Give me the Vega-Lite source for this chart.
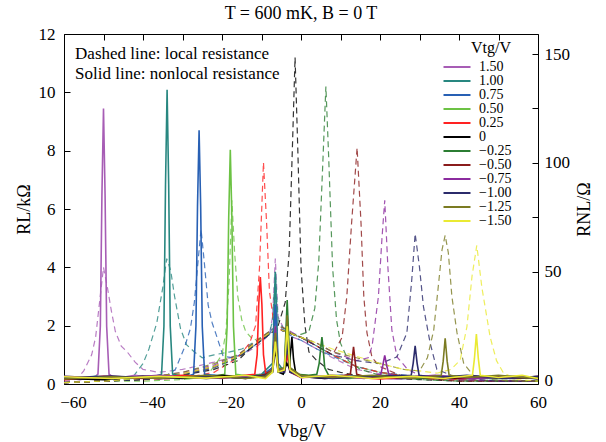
{
"$schema":"https://vega.github.io/schema/vega-lite/v6.json",
"width":474,"height":350,
"autosize":{"type":"none"},
"padding":{"left":64,"top":34,"right":68,"bottom":58},
"background":"white",
"title":{"text":"T = 600 mK, B = 0 T","font":"Liberation Serif","fontSize":18,"fontWeight":"normal","anchor":"middle","frame":"group","offset":2,"color":"#000"},
"config":{"view":{"stroke":null}},
"datasets":{
"L":[
{"s":"1.50","v":-60,"r":0.1},{"s":"1.50","v":-58,"r":0.12},{"s":"1.50","v":-56.5,"r":0.2},{"s":"1.50","v":-55,"r":0.45},{"s":"1.50","v":-53,"r":1.0},{"s":"1.50","v":-52,"r":1.6},{"s":"1.50","v":-51,"r":2.8},{"s":"1.50","v":-50,"r":4.0},{"s":"1.50","v":-49,"r":3.3},{"s":"1.50","v":-48,"r":2.5},{"s":"1.50","v":-47,"r":1.8},{"s":"1.50","v":-45.5,"r":1.3},{"s":"1.50","v":-44,"r":1.1},{"s":"1.50","v":-42,"r":0.75},{"s":"1.50","v":-40,"r":0.5},{"s":"1.50","v":-36,"r":0.4},{"s":"1.50","v":-30,"r":0.5},{"s":"1.50","v":-22,"r":0.75},{"s":"1.50","v":-15,"r":1.0},{"s":"1.50","v":-11,"r":1.3},{"s":"1.50","v":-8,"r":1.7},{"s":"1.50","v":-7.2,"r":2.3},{"s":"1.50","v":-6.5,"r":4.3},{"s":"1.50","v":-5.8,"r":2.3},{"s":"1.50","v":-4,"r":1.8},{"s":"1.50","v":-2,"r":1.6},{"s":"1.50","v":0,"r":1.5},{"s":"1.50","v":4,"r":1.2},{"s":"1.50","v":8,"r":0.9},{"s":"1.50","v":14,"r":0.5},{"s":"1.50","v":20,"r":0.35},{"s":"1.50","v":30,"r":0.2},{"s":"1.50","v":40,"r":0.15},{"s":"1.50","v":50,"r":0.1},{"s":"1.50","v":60,"r":0.1},
{"s":"1.00","v":-60,"r":0.05},{"s":"1.00","v":-50,"r":0.1},{"s":"1.00","v":-45,"r":0.15},{"s":"1.00","v":-42.5,"r":0.25},{"s":"1.00","v":-40,"r":0.7},{"s":"1.00","v":-38.5,"r":1.2},{"s":"1.00","v":-36.5,"r":2.1},{"s":"1.00","v":-35,"r":3.3},{"s":"1.00","v":-34,"r":4.3},{"s":"1.00","v":-33,"r":3.9},{"s":"1.00","v":-32,"r":3.0},{"s":"1.00","v":-30.5,"r":1.9},{"s":"1.00","v":-29,"r":1.35},{"s":"1.00","v":-27,"r":1.1},{"s":"1.00","v":-25,"r":0.9},{"s":"1.00","v":-22,"r":1.0},{"s":"1.00","v":-18,"r":1.1},{"s":"1.00","v":-15,"r":1.2},{"s":"1.00","v":-11,"r":1.5},{"s":"1.00","v":-8,"r":1.7},{"s":"1.00","v":-7.2,"r":2.2},{"s":"1.00","v":-6.5,"r":3.8},{"s":"1.00","v":-5.8,"r":2.2},{"s":"1.00","v":-4,"r":1.8},{"s":"1.00","v":-2,"r":1.7},{"s":"1.00","v":0,"r":1.6},{"s":"1.00","v":4,"r":1.3},{"s":"1.00","v":8,"r":1.0},{"s":"1.00","v":14,"r":0.6},{"s":"1.00","v":20,"r":0.4},{"s":"1.00","v":30,"r":0.2},{"s":"1.00","v":40,"r":0.15},{"s":"1.00","v":50,"r":0.1},{"s":"1.00","v":60,"r":0.1},
{"s":"0.75","v":-60,"r":0.05},{"s":"0.75","v":-50,"r":0.1},{"s":"0.75","v":-40,"r":0.15},{"s":"0.75","v":-34,"r":0.3},{"s":"0.75","v":-31.8,"r":0.5},{"s":"0.75","v":-29.5,"r":1.25},{"s":"0.75","v":-28,"r":1.9},{"s":"0.75","v":-27,"r":2.8},{"s":"0.75","v":-26,"r":4.3},{"s":"0.75","v":-25.3,"r":5.3},{"s":"0.75","v":-24.5,"r":4.2},{"s":"0.75","v":-23.5,"r":2.7},{"s":"0.75","v":-22.5,"r":2.1},{"s":"0.75","v":-21.5,"r":1.7},{"s":"0.75","v":-19.7,"r":0.95},{"s":"0.75","v":-17,"r":0.9},{"s":"0.75","v":-14,"r":1.1},{"s":"0.75","v":-11,"r":1.4},{"s":"0.75","v":-8,"r":1.7},{"s":"0.75","v":-7,"r":2.0},{"s":"0.75","v":-6.5,"r":3.3},{"s":"0.75","v":-6,"r":2.0},{"s":"0.75","v":-4,"r":1.8},{"s":"0.75","v":-2,"r":1.6},{"s":"0.75","v":0,"r":1.5},{"s":"0.75","v":4,"r":1.2},{"s":"0.75","v":8,"r":0.95},{"s":"0.75","v":14,"r":0.6},{"s":"0.75","v":20,"r":0.4},{"s":"0.75","v":30,"r":0.25},{"s":"0.75","v":40,"r":0.15},{"s":"0.75","v":50,"r":0.1},{"s":"0.75","v":60,"r":0.1},
{"s":"0.50","v":-60,"r":0.05},{"s":"0.50","v":-50,"r":0.1},{"s":"0.50","v":-40,"r":0.1},{"s":"0.50","v":-30,"r":0.15},{"s":"0.50","v":-24,"r":0.25},{"s":"0.50","v":-21.5,"r":0.7},{"s":"0.50","v":-20,"r":1.0},{"s":"0.50","v":-19,"r":1.8},{"s":"0.50","v":-18.2,"r":3.5},{"s":"0.50","v":-17.5,"r":6.3},{"s":"0.50","v":-16.8,"r":4.5},{"s":"0.50","v":-16,"r":3.0},{"s":"0.50","v":-15,"r":2.2},{"s":"0.50","v":-14,"r":1.8},{"s":"0.50","v":-12,"r":1.5},{"s":"0.50","v":-10,"r":1.6},{"s":"0.50","v":-8,"r":1.8},{"s":"0.50","v":-6,"r":1.9},{"s":"0.50","v":-4,"r":1.8},{"s":"0.50","v":-2,"r":1.7},{"s":"0.50","v":0,"r":1.6},{"s":"0.50","v":4,"r":1.3},{"s":"0.50","v":8,"r":1.0},{"s":"0.50","v":14,"r":0.6},{"s":"0.50","v":20,"r":0.4},{"s":"0.50","v":30,"r":0.2},{"s":"0.50","v":40,"r":0.15},{"s":"0.50","v":50,"r":0.1},{"s":"0.50","v":60,"r":0.1},
{"s":"0.25","v":-60,"r":0.05},{"s":"0.25","v":-50,"r":0.1},{"s":"0.25","v":-40,"r":0.15},{"s":"0.25","v":-30,"r":0.2},{"s":"0.25","v":-22,"r":0.4},{"s":"0.25","v":-16,"r":0.9},{"s":"0.25","v":-13,"r":1.4},{"s":"0.25","v":-11.5,"r":2.0},{"s":"0.25","v":-10.5,"r":4.0},{"s":"0.25","v":-9.5,"r":7.6},{"s":"0.25","v":-8.7,"r":5.5},{"s":"0.25","v":-8,"r":3.2},{"s":"0.25","v":-7,"r":2.2},{"s":"0.25","v":-6,"r":1.9},{"s":"0.25","v":-4,"r":1.8},{"s":"0.25","v":-2,"r":1.7},{"s":"0.25","v":0,"r":1.6},{"s":"0.25","v":4,"r":1.3},{"s":"0.25","v":8,"r":1.0},{"s":"0.25","v":14,"r":0.6},{"s":"0.25","v":20,"r":0.4},{"s":"0.25","v":30,"r":0.2},{"s":"0.25","v":40,"r":0.15},{"s":"0.25","v":50,"r":0.1},{"s":"0.25","v":60,"r":0.1},
{"s":"0","v":-60,"r":0.05},{"s":"0","v":-50,"r":0.1},{"s":"0","v":-40,"r":0.15},{"s":"0","v":-30,"r":0.3},{"s":"0","v":-22,"r":0.5},{"s":"0","v":-16,"r":0.8},{"s":"0","v":-13,"r":1.2},{"s":"0","v":-10,"r":1.5},{"s":"0","v":-8,"r":1.7},{"s":"0","v":-6,"r":1.9},{"s":"0","v":-4,"r":2.8},{"s":"0","v":-3,"r":4.5},{"s":"0","v":-2.2,"r":8.0},{"s":"0","v":-1.5,"r":11.2},{"s":"0","v":-0.8,"r":8.0},{"s":"0","v":0,"r":4.0},{"s":"0","v":1,"r":2.0},{"s":"0","v":2,"r":1.1},{"s":"0","v":4,"r":0.8},{"s":"0","v":7,"r":0.5},{"s":"0","v":10,"r":0.4},{"s":"0","v":14,"r":0.3},{"s":"0","v":20,"r":0.2},{"s":"0","v":30,"r":0.15},{"s":"0","v":40,"r":0.1},{"s":"0","v":50,"r":0.1},{"s":"0","v":60,"r":0.1},
{"s":"−0.25","v":-60,"r":0.05},{"s":"−0.25","v":-50,"r":0.1},{"s":"−0.25","v":-40,"r":0.15},{"s":"−0.25","v":-30,"r":0.3},{"s":"−0.25","v":-22,"r":0.6},{"s":"−0.25","v":-16,"r":0.9},{"s":"−0.25","v":-13,"r":1.2},{"s":"−0.25","v":-10,"r":1.5},{"s":"−0.25","v":-8,"r":1.7},{"s":"−0.25","v":-6,"r":1.9},{"s":"−0.25","v":-4,"r":1.8},{"s":"−0.25","v":-2,"r":1.7},{"s":"−0.25","v":0,"r":1.7},{"s":"−0.25","v":2,"r":1.8},{"s":"−0.25","v":3.5,"r":2.6},{"s":"−0.25","v":4.5,"r":4.2},{"s":"−0.25","v":5.5,"r":7.5},{"s":"−0.25","v":6.3,"r":10.2},{"s":"−0.25","v":7,"r":7.8},{"s":"−0.25","v":8,"r":4.0},{"s":"−0.25","v":9,"r":2.2},{"s":"−0.25","v":10,"r":1.4},{"s":"−0.25","v":12,"r":0.8},{"s":"−0.25","v":15,"r":0.5},{"s":"−0.25","v":20,"r":0.3},{"s":"−0.25","v":30,"r":0.15},{"s":"−0.25","v":40,"r":0.1},{"s":"−0.25","v":50,"r":0.1},{"s":"−0.25","v":60,"r":0.1},
{"s":"−0.50","v":-60,"r":0.05},{"s":"−0.50","v":-50,"r":0.1},{"s":"−0.50","v":-40,"r":0.2},{"s":"−0.50","v":-30,"r":0.35},{"s":"−0.50","v":-22,"r":0.6},{"s":"−0.50","v":-16,"r":0.95},{"s":"−0.50","v":-13,"r":1.25},{"s":"−0.50","v":-10,"r":1.55},{"s":"−0.50","v":-8,"r":1.75},{"s":"−0.50","v":-6,"r":1.9},{"s":"−0.50","v":-4,"r":1.8},{"s":"−0.50","v":-2,"r":1.7},{"s":"−0.50","v":0,"r":1.6},{"s":"−0.50","v":4,"r":1.3},{"s":"−0.50","v":8,"r":1.0},{"s":"−0.50","v":10.4,"r":1.6},{"s":"−0.50","v":11.6,"r":3.0},{"s":"−0.50","v":12.8,"r":5.5},{"s":"−0.50","v":14.2,"r":8.1},{"s":"−0.50","v":15.2,"r":5.5},{"s":"−0.50","v":15.9,"r":3.0},{"s":"−0.50","v":16.7,"r":1.75},{"s":"−0.50","v":18,"r":0.9},{"s":"−0.50","v":20,"r":0.6},{"s":"−0.50","v":25,"r":0.3},{"s":"−0.50","v":30,"r":0.2},{"s":"−0.50","v":40,"r":0.1},{"s":"−0.50","v":50,"r":0.1},{"s":"−0.50","v":60,"r":0.1},
{"s":"−0.75","v":-60,"r":0.05},{"s":"−0.75","v":-50,"r":0.1},{"s":"−0.75","v":-40,"r":0.2},{"s":"−0.75","v":-30,"r":0.4},{"s":"−0.75","v":-22,"r":0.65},{"s":"−0.75","v":-16,"r":1.0},{"s":"−0.75","v":-13,"r":1.3},{"s":"−0.75","v":-10,"r":1.6},{"s":"−0.75","v":-8,"r":1.8},{"s":"−0.75","v":-6,"r":2.0},{"s":"−0.75","v":-4,"r":1.9},{"s":"−0.75","v":-2,"r":1.75},{"s":"−0.75","v":0,"r":1.6},{"s":"−0.75","v":4,"r":1.4},{"s":"−0.75","v":8,"r":1.1},{"s":"−0.75","v":14,"r":0.8},{"s":"−0.75","v":17,"r":0.9},{"s":"−0.75","v":18,"r":1.3},{"s":"−0.75","v":19.6,"r":3.0},{"s":"−0.75","v":20.5,"r":5.0},{"s":"−0.75","v":21.2,"r":6.3},{"s":"−0.75","v":22,"r":4.0},{"s":"−0.75","v":23,"r":1.85},{"s":"−0.75","v":24.3,"r":0.93},{"s":"−0.75","v":27,"r":0.5},{"s":"−0.75","v":30,"r":0.3},{"s":"−0.75","v":40,"r":0.15},{"s":"−0.75","v":50,"r":0.1},{"s":"−0.75","v":60,"r":0.1},
{"s":"−1.00","v":-60,"r":0.05},{"s":"−1.00","v":-50,"r":0.1},{"s":"−1.00","v":-40,"r":0.15},{"s":"−1.00","v":-30,"r":0.3},{"s":"−1.00","v":-22,"r":0.55},{"s":"−1.00","v":-16,"r":0.9},{"s":"−1.00","v":-13,"r":1.2},{"s":"−1.00","v":-10,"r":1.5},{"s":"−1.00","v":-8,"r":1.7},{"s":"−1.00","v":-6,"r":1.85},{"s":"−1.00","v":-4,"r":1.8},{"s":"−1.00","v":-2,"r":1.7},{"s":"−1.00","v":0,"r":1.6},{"s":"−1.00","v":4,"r":1.3},{"s":"−1.00","v":8,"r":1.0},{"s":"−1.00","v":14,"r":0.8},{"s":"−1.00","v":20,"r":0.7},{"s":"−1.00","v":24.3,"r":0.93},{"s":"−1.00","v":26.8,"r":1.75},{"s":"−1.00","v":28,"r":3.5},{"s":"−1.00","v":28.9,"r":5.15},{"s":"−1.00","v":30,"r":4.0},{"s":"−1.00","v":31,"r":2.65},{"s":"−1.00","v":32.7,"r":1.4},{"s":"−1.00","v":34.4,"r":0.5},{"s":"−1.00","v":38,"r":0.3},{"s":"−1.00","v":45,"r":0.15},{"s":"−1.00","v":50,"r":0.1},{"s":"−1.00","v":60,"r":0.1},
{"s":"−1.25","v":-60,"r":0.05},{"s":"−1.25","v":-50,"r":0.1},{"s":"−1.25","v":-40,"r":0.2},{"s":"−1.25","v":-30,"r":0.4},{"s":"−1.25","v":-22,"r":0.7},{"s":"−1.25","v":-16,"r":1.0},{"s":"−1.25","v":-13,"r":1.3},{"s":"−1.25","v":-10,"r":1.6},{"s":"−1.25","v":-8,"r":1.8},{"s":"−1.25","v":-6,"r":2.0},{"s":"−1.25","v":-4,"r":1.9},{"s":"−1.25","v":-2,"r":1.7},{"s":"−1.25","v":0,"r":1.6},{"s":"−1.25","v":4,"r":1.4},{"s":"−1.25","v":8,"r":1.1},{"s":"−1.25","v":14,"r":0.9},{"s":"−1.25","v":20,"r":0.7},{"s":"−1.25","v":26,"r":0.5},{"s":"−1.25","v":30,"r":0.45},{"s":"−1.25","v":32,"r":0.9},{"s":"−1.25","v":33.6,"r":1.85},{"s":"−1.25","v":34.8,"r":3.4},{"s":"−1.25","v":35.7,"r":4.6},{"s":"−1.25","v":36.5,"r":5.1},{"s":"−1.25","v":37.3,"r":4.5},{"s":"−1.25","v":38.2,"r":3.0},{"s":"−1.25","v":39.5,"r":1.75},{"s":"−1.25","v":41.2,"r":0.7},{"s":"−1.25","v":43.6,"r":0.3},{"s":"−1.25","v":48,"r":0.15},{"s":"−1.25","v":55,"r":0.1},{"s":"−1.25","v":60,"r":0.1},
{"s":"−1.50","v":-60,"r":0.05},{"s":"−1.50","v":-50,"r":0.1},{"s":"−1.50","v":-40,"r":0.2},{"s":"−1.50","v":-30,"r":0.35},{"s":"−1.50","v":-22,"r":0.6},{"s":"−1.50","v":-16,"r":0.95},{"s":"−1.50","v":-13,"r":1.25},{"s":"−1.50","v":-10,"r":1.55},{"s":"−1.50","v":-8,"r":1.75},{"s":"−1.50","v":-6,"r":1.9},{"s":"−1.50","v":-4,"r":1.8},{"s":"−1.50","v":-2,"r":1.7},{"s":"−1.50","v":0,"r":1.6},{"s":"−1.50","v":4,"r":1.4},{"s":"−1.50","v":8,"r":1.2},{"s":"−1.50","v":14,"r":0.95},{"s":"−1.50","v":20,"r":0.7},{"s":"−1.50","v":26,"r":0.5},{"s":"−1.50","v":30,"r":0.45},{"s":"−1.50","v":34.4,"r":0.37},{"s":"−1.50","v":38,"r":0.5},{"s":"−1.50","v":40.3,"r":0.82},{"s":"−1.50","v":42,"r":1.96},{"s":"−1.50","v":43.3,"r":3.7},{"s":"−1.50","v":44.5,"r":4.75},{"s":"−1.50","v":45.8,"r":3.3},{"s":"−1.50","v":47.9,"r":1.6},{"s":"−1.50","v":49.5,"r":0.8},{"s":"−1.50","v":51.3,"r":0.37},{"s":"−1.50","v":55,"r":0.15},{"s":"−1.50","v":60,"r":0.1}
],
"N":[
{"s":"1.50","v":-60,"r":1.5},{"s":"1.50","v":-56,"r":0.5},{"s":"1.50","v":-52,"r":2},{"s":"1.50","v":-51.4,"r":3},{"s":"1.50","v":-50.8,"r":25},{"s":"1.50","v":-50.4,"r":85},{"s":"1.50","v":-50,"r":125},{"s":"1.50","v":-49.6,"r":85},{"s":"1.50","v":-49.2,"r":25},{"s":"1.50","v":-48.6,"r":3},{"s":"1.50","v":-47,"r":1},{"s":"1.50","v":-42,"r":2.5},{"s":"1.50","v":-36,"r":0.8},{"s":"1.50","v":-28,"r":2},{"s":"1.50","v":-20,"r":1},{"s":"1.50","v":-14,"r":2.5},{"s":"1.50","v":-9,"r":3},{"s":"1.50","v":-7.2,"r":6},{"s":"1.50","v":-6.5,"r":30},{"s":"1.50","v":-5.8,"r":6},{"s":"1.50","v":-4.2,"r":5},{"s":"1.50","v":-3.5,"r":15},{"s":"1.50","v":-2.8,"r":4},{"s":"1.50","v":0,"r":2},{"s":"1.50","v":6,"r":1},{"s":"1.50","v":14,"r":2},{"s":"1.50","v":24,"r":0.8},{"s":"1.50","v":34,"r":1.5},{"s":"1.50","v":46,"r":1},{"s":"1.50","v":54,"r":2},{"s":"1.50","v":60,"r":1},
{"s":"1.00","v":-60,"r":0.8},{"s":"1.00","v":-52,"r":2},{"s":"1.00","v":-44,"r":1},{"s":"1.00","v":-38,"r":1.5},{"s":"1.00","v":-35.3,"r":3},{"s":"1.00","v":-34.7,"r":25},{"s":"1.00","v":-34.3,"r":90},{"s":"1.00","v":-33.9,"r":133.6},{"s":"1.00","v":-33.5,"r":90},{"s":"1.00","v":-33.1,"r":25},{"s":"1.00","v":-32.5,"r":3},{"s":"1.00","v":-28,"r":1.5},{"s":"1.00","v":-22,"r":2.5},{"s":"1.00","v":-15,"r":1.5},{"s":"1.00","v":-10,"r":3},{"s":"1.00","v":-7.2,"r":8},{"s":"1.00","v":-6.5,"r":50},{"s":"1.00","v":-5.8,"r":8},{"s":"1.00","v":-4.2,"r":4},{"s":"1.00","v":-3.5,"r":18},{"s":"1.00","v":-2.8,"r":4},{"s":"1.00","v":0,"r":2.5},{"s":"1.00","v":8,"r":1.2},{"s":"1.00","v":16,"r":2},{"s":"1.00","v":26,"r":1},{"s":"1.00","v":36,"r":2},{"s":"1.00","v":48,"r":1},{"s":"1.00","v":60,"r":1.5},
{"s":"0.75","v":-60,"r":1.2},{"s":"0.75","v":-50,"r":0.7},{"s":"0.75","v":-40,"r":2},{"s":"0.75","v":-30,"r":1.2},{"s":"0.75","v":-27.2,"r":3},{"s":"0.75","v":-26.6,"r":25},{"s":"0.75","v":-26.2,"r":80},{"s":"0.75","v":-25.8,"r":115},{"s":"0.75","v":-25.4,"r":80},{"s":"0.75","v":-25,"r":25},{"s":"0.75","v":-24.4,"r":3},{"s":"0.75","v":-20,"r":2},{"s":"0.75","v":-14,"r":1},{"s":"0.75","v":-10,"r":2.5},{"s":"0.75","v":-7.2,"r":6},{"s":"0.75","v":-6.5,"r":35},{"s":"0.75","v":-5.8,"r":6},{"s":"0.75","v":-4.2,"r":4},{"s":"0.75","v":-3.5,"r":15},{"s":"0.75","v":-2.8,"r":4},{"s":"0.75","v":0,"r":1.5},{"s":"0.75","v":10,"r":2.5},{"s":"0.75","v":20,"r":1},{"s":"0.75","v":30,"r":2},{"s":"0.75","v":42,"r":1},{"s":"0.75","v":52,"r":2.2},{"s":"0.75","v":60,"r":0.8},
{"s":"0.50","v":-60,"r":2},{"s":"0.50","v":-48,"r":1},{"s":"0.50","v":-38,"r":2.2},{"s":"0.50","v":-28,"r":1},{"s":"0.50","v":-22,"r":2},{"s":"0.50","v":-19.3,"r":3},{"s":"0.50","v":-18.7,"r":25},{"s":"0.50","v":-18.3,"r":75},{"s":"0.50","v":-17.9,"r":106},{"s":"0.50","v":-17.5,"r":75},{"s":"0.50","v":-17.1,"r":25},{"s":"0.50","v":-16.5,"r":3},{"s":"0.50","v":-13,"r":2},{"s":"0.50","v":-9,"r":3},{"s":"0.50","v":-7.2,"r":5},{"s":"0.50","v":-6.5,"r":25},{"s":"0.50","v":-5.8,"r":5},{"s":"0.50","v":-4.2,"r":5},{"s":"0.50","v":-3.5,"r":20},{"s":"0.50","v":-2.8,"r":5},{"s":"0.50","v":0,"r":2},{"s":"0.50","v":12,"r":1},{"s":"0.50","v":22,"r":2.5},{"s":"0.50","v":32,"r":1},{"s":"0.50","v":44,"r":2},{"s":"0.50","v":54,"r":1},{"s":"0.50","v":60,"r":1.8},
{"s":"0.25","v":-60,"r":0.5},{"s":"0.25","v":-50,"r":2},{"s":"0.25","v":-40,"r":1},{"s":"0.25","v":-30,"r":2.5},{"s":"0.25","v":-20,"r":1.2},{"s":"0.25","v":-14,"r":2.5},{"s":"0.25","v":-11.7,"r":3},{"s":"0.25","v":-11.1,"r":12},{"s":"0.25","v":-10.7,"r":35},{"s":"0.25","v":-10.3,"r":47.6},{"s":"0.25","v":-9.9,"r":35},{"s":"0.25","v":-9.5,"r":12},{"s":"0.25","v":-8.9,"r":3},{"s":"0.25","v":-7.2,"r":5},{"s":"0.25","v":-6.5,"r":20},{"s":"0.25","v":-5.8,"r":5},{"s":"0.25","v":-4.2,"r":4},{"s":"0.25","v":-3.5,"r":12},{"s":"0.25","v":-2.8,"r":4},{"s":"0.25","v":0,"r":1.5},{"s":"0.25","v":10,"r":2},{"s":"0.25","v":20,"r":0.8},{"s":"0.25","v":30,"r":2},{"s":"0.25","v":40,"r":1},{"s":"0.25","v":50,"r":2},{"s":"0.25","v":60,"r":1},
{"s":"0","v":-60,"r":1},{"s":"0","v":-50,"r":0.5},{"s":"0","v":-40,"r":2},{"s":"0","v":-30,"r":1},{"s":"0","v":-20,"r":2.5},{"s":"0","v":-12,"r":1.5},{"s":"0","v":-8,"r":3},{"s":"0","v":-7.2,"r":4},{"s":"0","v":-6.5,"r":15},{"s":"0","v":-5.8,"r":4},{"s":"0","v":-4.5,"r":3},{"s":"0","v":-3.6,"r":8},{"s":"0","v":-3,"r":6},{"s":"0","v":-2.7,"r":12},{"s":"0","v":-2.3,"r":20},{"s":"0","v":-1.9,"r":10},{"s":"0","v":-1.3,"r":3},{"s":"0","v":0,"r":2},{"s":"0","v":6,"r":1},{"s":"0","v":14,"r":2},{"s":"0","v":24,"r":1.5},{"s":"0","v":36,"r":1},{"s":"0","v":48,"r":2},{"s":"0","v":60,"r":1},
{"s":"−0.25","v":-60,"r":1.5},{"s":"−0.25","v":-48,"r":1},{"s":"−0.25","v":-36,"r":2},{"s":"−0.25","v":-24,"r":1},{"s":"−0.25","v":-14,"r":2},{"s":"−0.25","v":-9,"r":2.5},{"s":"−0.25","v":-7.2,"r":5},{"s":"−0.25","v":-6.5,"r":22},{"s":"−0.25","v":-5.8,"r":5},{"s":"−0.25","v":-4.2,"r":6},{"s":"−0.25","v":-3.5,"r":37},{"s":"−0.25","v":-2.8,"r":6},{"s":"−0.25","v":-1,"r":3},{"s":"−0.25","v":2,"r":2.5},{"s":"−0.25","v":4,"r":3},{"s":"−0.25","v":4.6,"r":8},{"s":"−0.25","v":5,"r":15},{"s":"−0.25","v":5.3,"r":20},{"s":"−0.25","v":5.6,"r":15},{"s":"−0.25","v":6,"r":6},{"s":"−0.25","v":7,"r":2.5},{"s":"−0.25","v":12,"r":1.5},{"s":"−0.25","v":20,"r":2.5},{"s":"−0.25","v":30,"r":1},{"s":"−0.25","v":40,"r":2},{"s":"−0.25","v":50,"r":1},{"s":"−0.25","v":60,"r":1.5},
{"s":"−0.50","v":-60,"r":1},{"s":"−0.50","v":-48,"r":2},{"s":"−0.50","v":-36,"r":1},{"s":"−0.50","v":-24,"r":2.2},{"s":"−0.50","v":-14,"r":1},{"s":"−0.50","v":-9,"r":3},{"s":"−0.50","v":-7.2,"r":5},{"s":"−0.50","v":-6.5,"r":18},{"s":"−0.50","v":-5.8,"r":5},{"s":"−0.50","v":-4.2,"r":5},{"s":"−0.50","v":-3.5,"r":20},{"s":"−0.50","v":-2.8,"r":5},{"s":"−0.50","v":0,"r":2},{"s":"−0.50","v":6,"r":1.5},{"s":"−0.50","v":11,"r":2.5},{"s":"−0.50","v":12.5,"r":3},{"s":"−0.50","v":12.9,"r":9},{"s":"−0.50","v":13.3,"r":15.6},{"s":"−0.50","v":13.7,"r":9},{"s":"−0.50","v":14.1,"r":3},{"s":"−0.50","v":17,"r":1.5},{"s":"−0.50","v":24,"r":2.5},{"s":"−0.50","v":34,"r":1},{"s":"−0.50","v":44,"r":2},{"s":"−0.50","v":54,"r":1},{"s":"−0.50","v":60,"r":2},
{"s":"−0.75","v":-60,"r":2},{"s":"−0.75","v":-48,"r":1},{"s":"−0.75","v":-36,"r":2.5},{"s":"−0.75","v":-24,"r":1},{"s":"−0.75","v":-14,"r":2.2},{"s":"−0.75","v":-9,"r":1.5},{"s":"−0.75","v":-7.2,"r":5},{"s":"−0.75","v":-6.5,"r":25},{"s":"−0.75","v":-5.8,"r":5},{"s":"−0.75","v":-4.2,"r":5},{"s":"−0.75","v":-3.5,"r":22},{"s":"−0.75","v":-2.8,"r":5},{"s":"−0.75","v":0,"r":1.5},{"s":"−0.75","v":8,"r":2.5},{"s":"−0.75","v":16,"r":1},{"s":"−0.75","v":20.2,"r":3},{"s":"−0.75","v":20.7,"r":7},{"s":"−0.75","v":21.2,"r":11.6},{"s":"−0.75","v":21.7,"r":7},{"s":"−0.75","v":22.2,"r":3},{"s":"−0.75","v":26,"r":1.5},{"s":"−0.75","v":34,"r":2.5},{"s":"−0.75","v":44,"r":1},{"s":"−0.75","v":54,"r":2},{"s":"−0.75","v":60,"r":1},
{"s":"−1.00","v":-60,"r":1.2},{"s":"−1.00","v":-48,"r":2.2},{"s":"−1.00","v":-36,"r":1},{"s":"−1.00","v":-24,"r":2},{"s":"−1.00","v":-14,"r":1.2},{"s":"−1.00","v":-9,"r":2.5},{"s":"−1.00","v":-7.2,"r":4},{"s":"−1.00","v":-6.5,"r":20},{"s":"−1.00","v":-5.8,"r":4},{"s":"−1.00","v":-4.2,"r":4},{"s":"−1.00","v":-3.5,"r":18},{"s":"−1.00","v":-2.8,"r":4},{"s":"−1.00","v":0,"r":2},{"s":"−1.00","v":8,"r":1},{"s":"−1.00","v":18,"r":2},{"s":"−1.00","v":27.9,"r":2.5},{"s":"−1.00","v":28.4,"r":8},{"s":"−1.00","v":28.9,"r":16},{"s":"−1.00","v":29.4,"r":8},{"s":"−1.00","v":29.9,"r":2.5},{"s":"−1.00","v":34,"r":1.5},{"s":"−1.00","v":42,"r":2.5},{"s":"−1.00","v":52,"r":1},{"s":"−1.00","v":60,"r":2},
{"s":"−1.25","v":-60,"r":0.8},{"s":"−1.25","v":-48,"r":1.8},{"s":"−1.25","v":-36,"r":1},{"s":"−1.25","v":-24,"r":2.5},{"s":"−1.25","v":-14,"r":1},{"s":"−1.25","v":-9,"r":2},{"s":"−1.25","v":-7.2,"r":5},{"s":"−1.25","v":-6.5,"r":22},{"s":"−1.25","v":-5.8,"r":5},{"s":"−1.25","v":-4.2,"r":6},{"s":"−1.25","v":-3.5,"r":30},{"s":"−1.25","v":-2.8,"r":6},{"s":"−1.25","v":0,"r":2.5},{"s":"−1.25","v":8,"r":1.5},{"s":"−1.25","v":18,"r":2.5},{"s":"−1.25","v":28,"r":1},{"s":"−1.25","v":35.5,"r":2.5},{"s":"−1.25","v":36,"r":9},{"s":"−1.25","v":36.5,"r":19.5},{"s":"−1.25","v":37,"r":9},{"s":"−1.25","v":37.5,"r":2.5},{"s":"−1.25","v":42,"r":1.5},{"s":"−1.25","v":50,"r":2.5},{"s":"−1.25","v":60,"r":1},
{"s":"−1.50","v":-60,"r":1.8},{"s":"−1.50","v":-48,"r":1},{"s":"−1.50","v":-36,"r":2},{"s":"−1.50","v":-24,"r":1.2},{"s":"−1.50","v":-14,"r":2.5},{"s":"−1.50","v":-9,"r":1},{"s":"−1.50","v":-7.2,"r":4},{"s":"−1.50","v":-6.5,"r":18},{"s":"−1.50","v":-5.8,"r":4},{"s":"−1.50","v":-4.2,"r":5},{"s":"−1.50","v":-3.5,"r":25},{"s":"−1.50","v":-2.8,"r":5},{"s":"−1.50","v":0,"r":1.5},{"s":"−1.50","v":8,"r":2.5},{"s":"−1.50","v":18,"r":1},{"s":"−1.50","v":28,"r":2},{"s":"−1.50","v":36,"r":1},{"s":"−1.50","v":43.4,"r":2.5},{"s":"−1.50","v":43.9,"r":10},{"s":"−1.50","v":44.4,"r":21.4},{"s":"−1.50","v":44.9,"r":10},{"s":"−1.50","v":45.4,"r":2.5},{"s":"−1.50","v":50,"r":1.5},{"s":"−1.50","v":56,"r":2.5},{"s":"−1.50","v":60,"r":1}
]
},
"layer":[
{"layer":[
{"data":{"name":"L"},
 "mark":{"type":"line","strokeDash":[6,4],"strokeWidth":1.2,"opacity":0.8},
 "encoding":{
  "x":{"field":"v","type":"quantitative","scale":{"domain":[-60,60],"nice":false,"zero":false},
   "axis":{"orient":"bottom","values":[-60,-50,-40,-30,-20,-10,0,10,20,30,40,50,60],"labelExpr":"datum.value % 20 === 0 ? datum.label : ''","title":"Vbg/V","tickSize":-6,"labelPadding":16,"titlePadding":12,"grid":false,"domainColor":"#000","tickColor":"#000","labelColor":"#000","titleColor":"#000","labelFont":"Liberation Serif","labelFontSize":17,"titleFont":"Liberation Serif","titleFontSize":18,"titleFontWeight":"normal","labelFlush":false,"labelOverlap":false,"labelOffset":{"condition":{"test":"datum.value < 0","value":9},"value":0}}},
  "y":{"field":"r","type":"quantitative","scale":{"domain":[0,12],"nice":false},
   "axis":{"orient":"left","values":[0,1,2,3,4,5,6,7,8,9,10,11,12],"labelExpr":"datum.value % 2 === 0 ? datum.label : ''","title":"RL/kΩ","tickSize":-6,"labelPadding":15,"titlePadding":5,"grid":false,"domainColor":"#000","tickColor":"#000","labelColor":"#000","titleColor":"#000","labelFont":"Liberation Serif","labelFontSize":17,"titleFont":"Liberation Serif","titleFontSize":18,"titleFontWeight":"normal","labelFlush":false,"labelOverlap":false}},
  "color":{"field":"s","type":"nominal",
   "scale":{"domain":["1.50","1.00","0.75","0.50","0.25","0","−0.25","−0.50","−0.75","−1.00","−1.25","−1.50"],
            "range":["#a75db5","#288780","#2860b4","#6cc244","#ff2222","#000000","#2b7d32","#8a1c1c","#8b2b9e","#2b2b6b","#7b7b22","#eaea33"]},
   "legend":{"title":"Vtg/V","orient":"none","legendX":386,"legendY":6,"symbolType":"M-2.7,0H2.7","symbolSize":100,"symbolStrokeWidth":2,"symbolDash":[1,0],"symbolOpacity":1,"labelOffset":15,"labelFont":"Liberation Serif","labelFontSize":14,"labelColor":"#000","rowPadding":0,"titleFont":"Liberation Serif","titleFontSize":16,"titleFontWeight":"normal","titleColor":"#000","titleAnchor":"end","titlePadding":4,"padding":0}}
 }},
{"data":{"values":[{}]},
 "mark":{"type":"text","align":"left","baseline":"alphabetic","font":"Liberation Serif","fontSize":17,"lineHeight":20,"color":"#000"},
 "encoding":{"x":{"datum":-57.2,"type":"quantitative"},"y":{"datum":11.15,"type":"quantitative"},"text":{"value":["Dashed line: local resistance","Solid line: nonlocal resistance"]}}}
]},
{"data":{"name":"N"},
 "mark":{"type":"line","strokeWidth":1.6},
 "encoding":{
  "x":{"field":"v","type":"quantitative","scale":{"domain":[-60,60],"nice":false,"zero":false},
   "axis":{"orient":"top","values":[-60,-50,-40,-30,-20,-10,0,10,20,30,40,50,60],"labels":false,"title":null,"tickSize":-6,"grid":false,"domainColor":"#000","tickColor":"#000"}},
  "y":{"field":"r","type":"quantitative","scale":{"domain":[-1.5,159.2],"nice":false,"zero":false},
   "axis":{"orient":"right","values":[0,25,50,75,100,125,150],"labelExpr":"datum.value % 50 === 0 ? datum.label : ''","title":"RNL/Ω","titleAngle":270,"tickSize":-6,"labelPadding":12,"titlePadding":24,"grid":false,"domainColor":"#000","tickColor":"#000","labelColor":"#000","titleColor":"#000","labelFont":"Liberation Serif","labelFontSize":17,"titleFont":"Liberation Serif","titleFontSize":18,"titleFontWeight":"normal","labelFlush":false,"labelOverlap":false}},
  "color":{"field":"s","type":"nominal"}
 }}
],
"resolve":{"scale":{"x":"independent","y":"independent"}}
}
